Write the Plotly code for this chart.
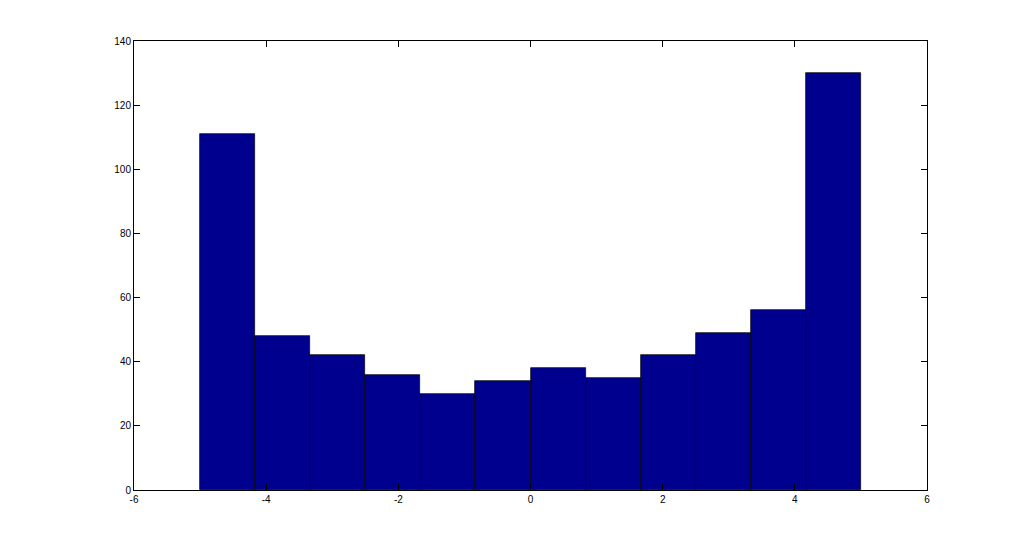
import plotly.graph_objects as go

# histogram counts, 12 equal bins over [-5, 5]
bin_lo = -5.0
bin_hi = 5.0
counts = [111, 48, 42, 36, 30, 34, 38, 35, 42, 49, 56, 130]

x_ticks = [-6, -4, -2, 0, 2, 4, 6]
x_labels = ["-6", "-4", "-2", "0", "2", "4", "6"]
y_ticks = [0, 20, 40, 60, 80, 100, 120, 140]

n = len(counts)
w = (bin_hi - bin_lo) / n
centers = [bin_lo + w * (i + 0.5) for i in range(n)]

fig = go.Figure()
fig.add_trace(go.Bar(x=centers, y=counts, width=w,
                     marker=dict(color="#00008F", line=dict(color="black", width=0.7)),
                     showlegend=False))

axis_style = dict(showline=True, linecolor="black", linewidth=1, mirror="ticks",
                  ticks="inside", ticklen=6, tickcolor="black", showgrid=False,
                  zeroline=False, tickfont=dict(family="Liberation Sans", size=10, color="black"))

fig.update_xaxes(range=[-6, 6], tickvals=x_ticks, ticktext=x_labels, **axis_style)
fig.update_yaxes(range=[0, 140], tickvals=y_ticks, **axis_style)

# page body has an 8px margin, so the figure is sized to fit inside it
fig.update_layout(width=1016, height=543, margin=dict(l=126, r=97, t=33, b=61),
                  plot_bgcolor="white", paper_bgcolor="white", bargap=0)

fig.write_html("out.html")
